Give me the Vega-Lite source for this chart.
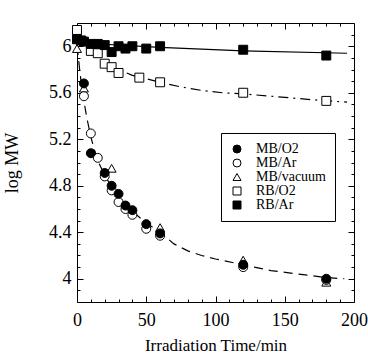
{
  "$schema": "https://vega.github.io/schema/vega-lite/v6.json",
  "autosize": {"type": "none"},
  "width": 277,
  "height": 279,
  "padding": {"left": 77, "top": 23, "right": 14, "bottom": 54},
  "background": "white",
  "config": {
    "view": {"stroke": "black", "strokeWidth": 1},
    "font": "Liberation Serif",
    "style": {"guide-label": {"font": "Liberation Serif", "fill": "black"}, "guide-title": {"font": "Liberation Serif", "fill": "black", "fontWeight": "normal"}},
    "axis": {"domain": false, "grid": false, "labelFlush": false, "labelFont": "Liberation Serif", "titleFont": "Liberation Serif", "labelColor": "black", "titleColor": "black", "tickColor": "black", "titleFontWeight": "normal"},
    "legend": {"labelFont": "Liberation Serif"}
  },
  "datasets": {
    "pts": [
      {"t": 0, "v": 6.14, "s": "RB/O2"}, {"t": 10, "v": 5.96, "s": "RB/O2"}, {"t": 15, "v": 5.94, "s": "RB/O2"}, {"t": 20, "v": 5.85, "s": "RB/O2"}, {"t": 25, "v": 5.82, "s": "RB/O2"}, {"t": 30, "v": 5.77, "s": "RB/O2"}, {"t": 45, "v": 5.73, "s": "RB/O2"}, {"t": 60, "v": 5.69, "s": "RB/O2"}, {"t": 120, "v": 5.60, "s": "RB/O2"}, {"t": 180, "v": 5.53, "s": "RB/O2"},
      {"t": 0, "v": 6.06, "s": "RB/Ar"}, {"t": 3, "v": 6.05, "s": "RB/Ar"}, {"t": 5, "v": 6.04, "s": "RB/Ar"}, {"t": 10, "v": 6.02, "s": "RB/Ar"}, {"t": 15, "v": 6.02, "s": "RB/Ar"}, {"t": 20, "v": 6.01, "s": "RB/Ar"}, {"t": 25, "v": 5.95, "s": "RB/Ar"}, {"t": 30, "v": 6.0, "s": "RB/Ar"}, {"t": 35, "v": 5.98, "s": "RB/Ar"}, {"t": 40, "v": 6.0, "s": "RB/Ar"}, {"t": 50, "v": 5.98, "s": "RB/Ar"}, {"t": 60, "v": 6.0, "s": "RB/Ar"}, {"t": 120, "v": 5.97, "s": "RB/Ar"}, {"t": 180, "v": 5.92, "s": "RB/Ar"},
      {"t": 0, "v": 5.98, "s": "MB/vacuum"}, {"t": 5, "v": 5.64, "s": "MB/vacuum"}, {"t": 25, "v": 4.95, "s": "MB/vacuum"}, {"t": 60, "v": 4.44, "s": "MB/vacuum"}, {"t": 120, "v": 4.16, "s": "MB/vacuum"}, {"t": 180, "v": 3.97, "s": "MB/vacuum"},
      {"t": 5, "v": 5.57, "s": "MB/Ar"}, {"t": 10, "v": 5.25, "s": "MB/Ar"}, {"t": 15, "v": 5.04, "s": "MB/Ar"}, {"t": 20, "v": 4.88, "s": "MB/Ar"}, {"t": 25, "v": 4.76, "s": "MB/Ar"}, {"t": 30, "v": 4.66, "s": "MB/Ar"}, {"t": 35, "v": 4.60, "s": "MB/Ar"}, {"t": 40, "v": 4.55, "s": "MB/Ar"}, {"t": 50, "v": 4.43, "s": "MB/Ar"}, {"t": 60, "v": 4.37, "s": "MB/Ar"}, {"t": 120, "v": 4.10, "s": "MB/Ar"}, {"t": 180, "v": 3.99, "s": "MB/Ar"},
      {"t": 5, "v": 5.68, "s": "MB/O2"}, {"t": 10, "v": 5.08, "s": "MB/O2"}, {"t": 20, "v": 4.91, "s": "MB/O2"}, {"t": 25, "v": 4.80, "s": "MB/O2"}, {"t": 30, "v": 4.73, "s": "MB/O2"}, {"t": 35, "v": 4.63, "s": "MB/O2"}, {"t": 40, "v": 4.59, "s": "MB/O2"}, {"t": 50, "v": 4.47, "s": "MB/O2"}, {"t": 60, "v": 4.39, "s": "MB/O2"}, {"t": 120, "v": 4.12, "s": "MB/O2"}, {"t": 180, "v": 4.0, "s": "MB/O2"}
    ],
    "fits": [
      {"t": 0, "v": 6.0, "f": "MB"}, {"t": 1, "v": 5.9, "f": "MB"}, {"t": 2, "v": 5.79, "f": "MB"}, {"t": 3, "v": 5.69, "f": "MB"}, {"t": 5, "v": 5.53, "f": "MB"}, {"t": 7, "v": 5.39, "f": "MB"}, {"t": 10, "v": 5.22, "f": "MB"}, {"t": 13, "v": 5.09, "f": "MB"}, {"t": 16, "v": 4.99, "f": "MB"}, {"t": 20, "v": 4.89, "f": "MB"}, {"t": 25, "v": 4.79, "f": "MB"}, {"t": 30, "v": 4.71, "f": "MB"}, {"t": 35, "v": 4.64, "f": "MB"}, {"t": 40, "v": 4.58, "f": "MB"}, {"t": 50, "v": 4.48, "f": "MB"}, {"t": 60, "v": 4.40, "f": "MB"}, {"t": 70, "v": 4.30, "f": "MB"}, {"t": 80, "v": 4.24, "f": "MB"}, {"t": 90, "v": 4.20, "f": "MB"}, {"t": 100, "v": 4.17, "f": "MB"}, {"t": 120, "v": 4.12, "f": "MB"}, {"t": 140, "v": 4.07, "f": "MB"}, {"t": 160, "v": 4.04, "f": "MB"}, {"t": 180, "v": 4.01, "f": "MB"}, {"t": 193, "v": 4.0, "f": "MB"},
      {"t": 22, "v": 5.86, "f": "RBO2"}, {"t": 30, "v": 5.80, "f": "RBO2"}, {"t": 40, "v": 5.75, "f": "RBO2"}, {"t": 50, "v": 5.72, "f": "RBO2"}, {"t": 60, "v": 5.69, "f": "RBO2"}, {"t": 75, "v": 5.65, "f": "RBO2"}, {"t": 90, "v": 5.62, "f": "RBO2"}, {"t": 105, "v": 5.60, "f": "RBO2"}, {"t": 120, "v": 5.59, "f": "RBO2"}, {"t": 140, "v": 5.57, "f": "RBO2"}, {"t": 160, "v": 5.55, "f": "RBO2"}, {"t": 180, "v": 5.53, "f": "RBO2"}, {"t": 195, "v": 5.52, "f": "RBO2"},
      {"t": 0, "v": 6.03, "f": "RBAr"}, {"t": 60, "v": 5.99, "f": "RBAr"}, {"t": 120, "v": 5.96, "f": "RBAr"}, {"t": 195, "v": 5.94, "f": "RBAr"}
    ]
  },
  "layer": [
    {
      "data": {"name": "fits"},
      "transform": [{"filter": "datum.f === 'RBAr'"}],
      "mark": {"type": "line", "color": "black", "strokeWidth": 1.2},
      "encoding": {
        "x": {"field": "t", "type": "quantitative", "scale": {"domain": [0, 200], "nice": false, "zero": false},
              "axis": {"orient": "bottom", "values": [0, 50, 100, 150, 200], "ticks": false, "labelFlush": false, "labelFont": "Liberation Serif", "labelFontSize": 18, "labelPadding": 9, "title": "Irradiation Time/min", "titleFont": "Liberation Serif", "titleFontSize": 17, "titlePadding": 8}},
        "y": {"field": "v", "type": "quantitative", "scale": {"domain": [3.8, 6.2], "nice": false, "zero": false},
              "axis": {"orient": "left", "values": [4, 4.4, 4.8, 5.2, 5.6, 6], "format": "~g", "ticks": false, "labelFlush": false, "labelFont": "Liberation Serif", "labelFontSize": 18, "labelPadding": 6, "title": "log MW", "titleFont": "Liberation Serif", "titleFontSize": 18, "titlePadding": 27}}
      }
    },
    {
      "data": {"name": "fits"},
      "transform": [{"filter": "datum.f === 'RBO2'"}],
      "mark": {"type": "line", "color": "black", "strokeWidth": 1.2, "strokeDash": [10, 5, 2, 5]},
      "encoding": {
        "x": {"field": "t", "type": "quantitative", "scale": {"domain": [0, 200], "nice": false, "zero": false}, "axis": null},
        "y": {"field": "v", "type": "quantitative", "scale": {"domain": [3.8, 6.2], "nice": false, "zero": false}, "axis": null}
      }
    },
    {
      "data": {"name": "fits"},
      "transform": [{"filter": "datum.f === 'MB'"}],
      "mark": {"type": "line", "color": "black", "strokeWidth": 1.2, "strokeDash": [9, 6]},
      "encoding": {
        "x": {"field": "t", "type": "quantitative", "scale": {"domain": [0, 200], "nice": false, "zero": false}, "axis": null},
        "y": {"field": "v", "type": "quantitative", "scale": {"domain": [3.8, 6.2], "nice": false, "zero": false}, "axis": null}
      }
    },
    {
      "data": {"name": "pts"},
      "mark": {"type": "point", "filled": true, "strokeWidth": 1, "size": 80, "opacity": 1},
      "encoding": {
        "x": {"field": "t", "type": "quantitative", "scale": {"domain": [0, 200], "nice": false, "zero": false}, "axis": null},
        "y": {"field": "v", "type": "quantitative", "scale": {"domain": [3.8, 6.2], "nice": false, "zero": false}, "axis": null},
        "shape": {"field": "s", "type": "nominal",
                  "scale": {"domain": ["MB/O2", "MB/Ar", "MB/vacuum", "RB/O2", "RB/Ar"], "range": ["circle", "circle", "triangle-up", "square", "square"]},
                  "legend": {"title": null, "orient": "none", "legendX": 144, "legendY": 110, "strokeColor": "black", "fillColor": "white", "padding": 9, "labelFont": "Liberation Serif", "labelFontSize": 14, "labelColor": "black", "symbolStrokeWidth": 1, "symbolSize": 64, "rowPadding": 0, "labelOffset": 12, "cornerRadius": 0}},
        "fill": {"field": "s", "type": "nominal",
                 "scale": {"domain": ["MB/O2", "MB/Ar", "MB/vacuum", "RB/O2", "RB/Ar"], "range": ["black", "white", "white", "white", "black"]},
                 "legend": {"title": null, "orient": "none", "legendX": 144, "legendY": 110, "strokeColor": "black", "fillColor": "white", "padding": 9, "labelFont": "Liberation Serif", "labelFontSize": 14, "labelColor": "black", "symbolStrokeWidth": 1, "symbolSize": 64, "rowPadding": 0, "labelOffset": 12, "cornerRadius": 0}},
        "stroke": {"field": "s", "type": "nominal",
                 "scale": {"domain": ["MB/O2", "MB/Ar", "MB/vacuum", "RB/O2", "RB/Ar"], "range": ["black", "black", "black", "black", "black"]},
                 "legend": {"title": null, "orient": "none", "legendX": 144, "legendY": 110, "strokeColor": "black", "fillColor": "white", "padding": 9, "labelFont": "Liberation Serif", "labelFontSize": 14, "labelColor": "black", "symbolStrokeWidth": 1, "symbolSize": 64, "rowPadding": 0, "labelOffset": 12, "cornerRadius": 0}}
      }
    },
    {
      "data": {"name": "pts"},
      "mark": {"type": "point", "opacity": 0},
      "encoding": {
        "x": {"field": "t", "type": "quantitative", "scale": {"domain": [0, 200], "nice": false, "zero": false},
              "axis": {"orient": "bottom", "values": [0, 50, 100, 150, 200], "labels": false, "title": null, "tickSize": -6, "tickWidth": 1}},
        "y": {"field": "v", "type": "quantitative", "scale": {"domain": [3.8, 6.2], "nice": false, "zero": false},
              "axis": {"orient": "left", "values": [4, 4.4, 4.8, 5.2, 5.6, 6], "labels": false, "title": null, "tickSize": -6, "tickWidth": 1}}
      }
    },
    {
      "data": {"name": "pts"},
      "mark": {"type": "point", "opacity": 0},
      "encoding": {
        "x": {"field": "t", "type": "quantitative", "scale": {"domain": [0, 200], "nice": false, "zero": false},
              "axis": {"orient": "bottom", "values": [10, 20, 30, 40, 60, 70, 80, 90, 110, 120, 130, 140, 160, 170, 180, 190], "labels": false, "title": null, "tickSize": -3, "tickWidth": 1}},
        "y": {"field": "v", "type": "quantitative", "scale": {"domain": [3.8, 6.2], "nice": false, "zero": false},
              "axis": {"orient": "left", "values": [3.9, 4.1, 4.2, 4.3, 4.5, 4.6, 4.7, 4.9, 5.0, 5.1, 5.3, 5.4, 5.5, 5.7, 5.8, 5.9, 6.1], "labels": false, "title": null, "tickSize": -3, "tickWidth": 1}}
      }
    },
    {
      "data": {"name": "pts"},
      "mark": {"type": "point", "opacity": 0},
      "encoding": {
        "x": {"field": "t", "type": "quantitative", "scale": {"domain": [0, 200], "nice": false, "zero": false},
              "axis": {"orient": "top", "values": [0, 50, 100, 150, 200], "labels": false, "title": null, "tickSize": -6, "tickWidth": 1}},
        "y": {"field": "v", "type": "quantitative", "scale": {"domain": [3.8, 6.2], "nice": false, "zero": false},
              "axis": {"orient": "right", "values": [4, 4.4, 4.8, 5.2, 5.6, 6], "labels": false, "title": null, "tickSize": -6, "tickWidth": 1}}
      }
    },
    {
      "data": {"name": "pts"},
      "mark": {"type": "point", "opacity": 0},
      "encoding": {
        "x": {"field": "t", "type": "quantitative", "scale": {"domain": [0, 200], "nice": false, "zero": false},
              "axis": {"orient": "top", "values": [10, 20, 30, 40, 60, 70, 80, 90, 110, 120, 130, 140, 160, 170, 180, 190], "labels": false, "title": null, "tickSize": -3, "tickWidth": 1}},
        "y": {"field": "v", "type": "quantitative", "scale": {"domain": [3.8, 6.2], "nice": false, "zero": false},
              "axis": {"orient": "right", "values": [3.9, 4.1, 4.2, 4.3, 4.5, 4.6, 4.7, 4.9, 5.0, 5.1, 5.3, 5.4, 5.5, 5.7, 5.8, 5.9, 6.1], "labels": false, "title": null, "tickSize": -3, "tickWidth": 1}}
      }
    }
  ],
  "resolve": {"axis": {"x": "independent", "y": "independent"}}
}
